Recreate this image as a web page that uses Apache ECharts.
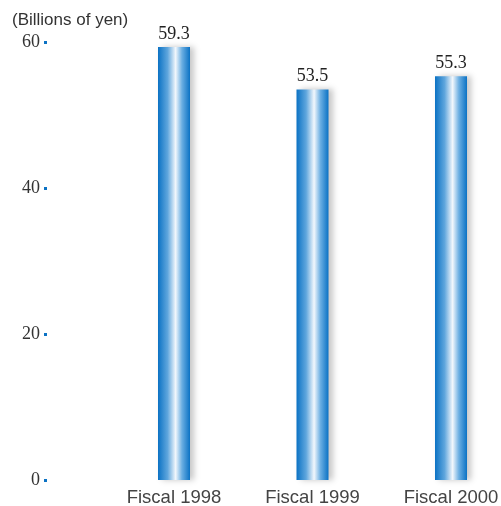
<!DOCTYPE html>
<html>
<head>
<meta charset="utf-8">
<script src="https://cdn.jsdelivr.net/npm/echarts@6/dist/echarts.min.js"></script>
<style>
  html, body { margin: 0; padding: 0; background: #fff; }
  #chart { width: 501px; height: 506px; }
</style>
</head>
<body>
<div id="chart"></div>
<script>
// data
const categories = ['Fiscal 1998', 'Fiscal 1999', 'Fiscal 2000']
const values = [59.3, 53.5, 55.3]
const unitLabel = '(Billions of yen)'

const chart = echarts.init(document.getElementById('chart'))

// blue cylinder look
const barColor = new echarts.graphic.LinearGradient(0, 0, 1, 0, [
  { offset: 0, color: '#0b72c4' },
  { offset: 0.3, color: '#5fa6dd' },
  { offset: 0.55, color: '#f2f7fc' },
  { offset: 0.75, color: '#6aaee2' },
  { offset: 1, color: '#0b72c4' }
])

const option = {
  animation: false,
  title: {
    text: unitLabel,
    left: 7,
    top: 7,
    textStyle: { fontFamily: 'Liberation Sans', fontSize: 17, fontWeight: 'normal', color: '#333' }
  },
  grid: { left: 174, right: 50, top: 42, bottom: 26, outerBoundsMode: 'none' },
  xAxis: {
    type: 'category',
    data: categories,
    boundaryGap: false,
    axisLine: { show: false },
    axisTick: { show: false },
    axisLabel: { margin: 8, fontFamily: 'Liberation Sans', fontSize: 18.5, color: '#444' }
  },
  yAxis: {
    type: 'value',
    min: 0,
    max: 60,
    interval: 20,
    offset: 127,
    splitLine: { show: false },
    axisLine: { show: false },
    axisTick: { show: true, length: 3, lineStyle: { color: '#0b72c4', width: 3 } },
    axisLabel: { margin: 7, fontFamily: 'Liberation Serif', fontSize: 18, color: '#333' }
  },
  series: [{
    type: 'bar',
    data: values,
    barWidth: 32,
    clip: false,
    itemStyle: {
      color: barColor,
      shadowBlur: 6,
      shadowOffsetX: 4,
      shadowColor: 'rgba(0,0,0,0.22)'
    },
    label: {
      show: true,
      position: 'top',
      distance: 4,
      fontFamily: 'Liberation Serif',
      fontSize: 18,
      color: '#222'
    }
  }]
}

chart.setOption(option)
</script>
</body>
</html>
